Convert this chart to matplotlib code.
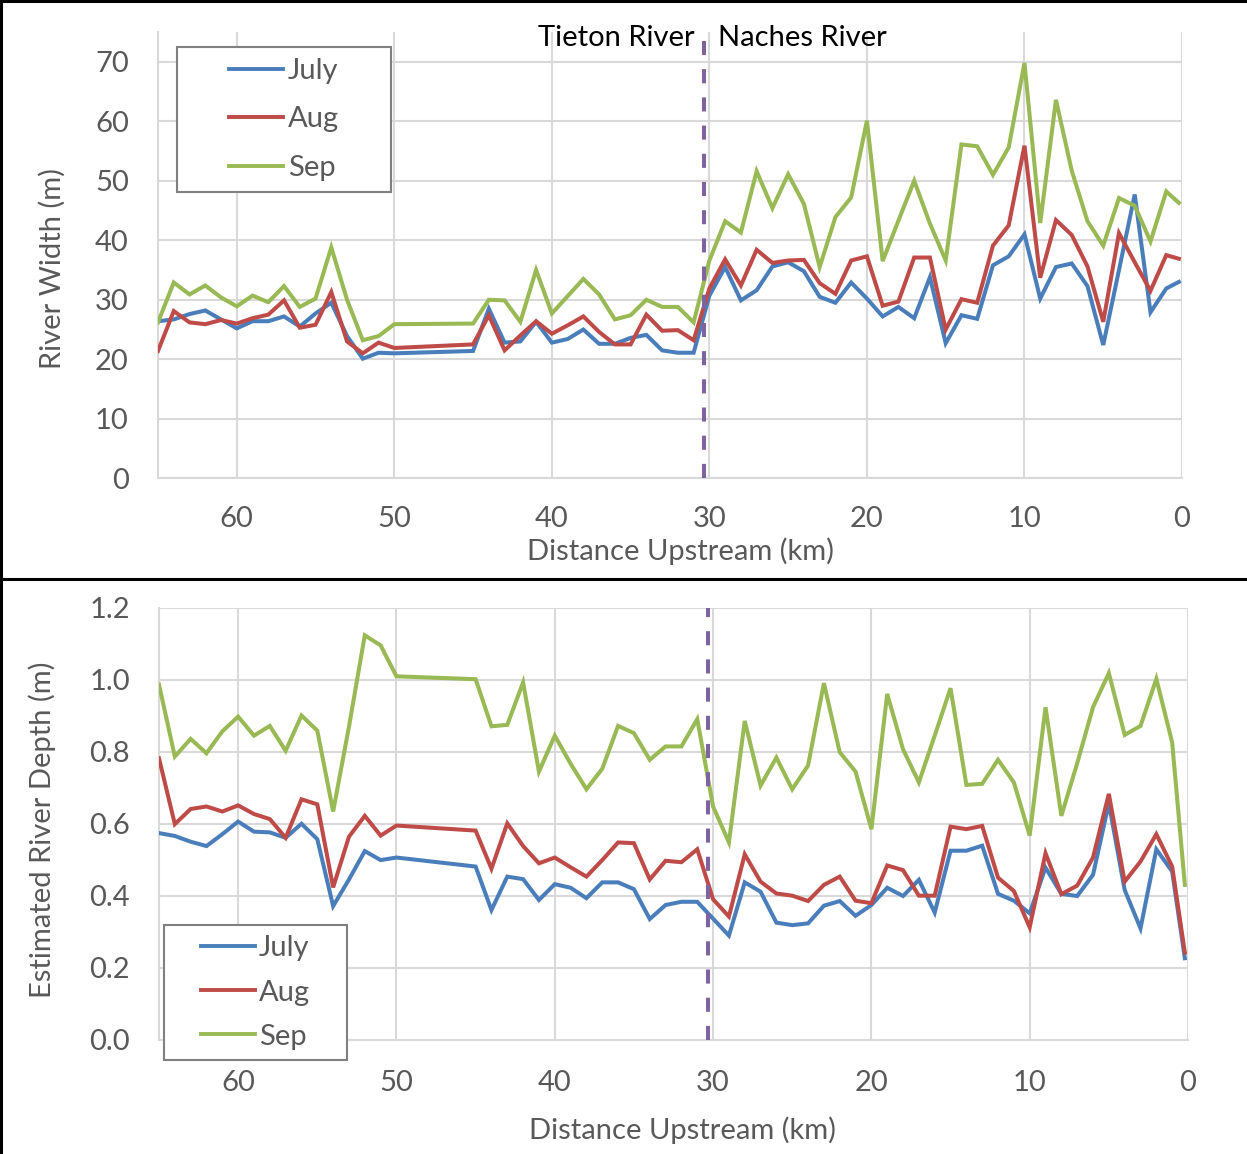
"""River width and estimated depth along the Tieton / Naches reach."""
import numpy as np
import matplotlib
matplotlib.use("Agg")
import matplotlib.pyplot as plt
from matplotlib.lines import Line2D
from matplotlib.patches import Rectangle

# distance upstream (km); no samples between 50 and 45 km
KM = list(range(65, 49, -1)) + list(range(45, 0, -1)) + [0.2]

WIDTH_JULY = [26.4, 26.7, 27.6, 28.2, 26.7, 25.2, 26.4, 26.4, 27.2, 25.5, 27.7, 29.5, 23.9, 20.1, 21.1, 21.0,
              21.4, 28.5, 22.8, 23.0, 26.3, 22.8, 23.4, 25.0, 22.6, 22.6, 23.6, 24.1, 21.5, 21.1, 21.1,
              30.7, 35.5, 29.9, 31.6, 35.6, 36.3, 34.8, 30.5, 29.5, 32.9, 30.2, 27.2, 28.8, 26.9, 33.8,
              22.7, 27.4, 26.8, 35.8, 37.3, 41.0, 30.2, 35.5, 36.1, 32.3, 22.4, 35.0, 47.7, 27.9, 31.9, 33.0]
WIDTH_AUG = [21.4, 28.1, 26.2, 25.9, 26.6, 26.0, 26.9, 27.5, 29.9, 25.3, 25.8, 31.3, 23.0, 21.0, 22.8, 21.9,
             22.5, 27.4, 21.5, 24.0, 26.4, 24.3, 25.7, 27.2, 24.6, 22.5, 22.5, 27.5, 24.8, 24.9, 23.2,
             31.9, 36.8, 32.4, 38.4, 36.2, 36.6, 36.7, 32.8, 31.0, 36.6, 37.3, 29.0, 29.7, 37.1, 37.1,
             25.0, 30.1, 29.5, 39.1, 42.5, 55.9, 33.7, 43.4, 40.9, 35.6, 26.3, 41.2, 36.3, 31.5, 37.5, 36.9]
WIDTH_SEP = [26.2, 32.9, 30.9, 32.4, 30.4, 28.9, 30.7, 29.6, 32.3, 28.8, 30.2, 38.8, 30.0, 23.2, 23.9, 25.9,
             26.0, 30.0, 29.9, 26.3, 35.0, 27.7, 30.6, 33.5, 30.9, 26.7, 27.4, 30.0, 28.8, 28.8, 26.2,
             36.6, 43.2, 41.3, 51.6, 45.4, 51.1, 46.1, 35.5, 43.9, 47.2, 60.1, 36.5, 43.3, 50.0, 42.8,
             36.6, 56.1, 55.8, 51.0, 55.6, 69.8, 42.9, 63.6, 51.7, 43.2, 39.1, 47.1, 45.8, 39.8, 48.2, 46.3]

DEPTH_JULY = [0.574, 0.566, 0.550, 0.538, 0.571, 0.606, 0.578, 0.576, 0.561, 0.600, 0.557, 0.371, 0.445, 0.524, 0.499, 0.506,
              0.481, 0.360, 0.453, 0.446, 0.388, 0.432, 0.422, 0.393, 0.437, 0.437, 0.418, 0.335, 0.374, 0.383, 0.383,
              0.336, 0.289, 0.437, 0.411, 0.325, 0.318, 0.323, 0.372, 0.385, 0.344, 0.374, 0.422, 0.399, 0.444, 0.353,
              0.525, 0.525, 0.539, 0.405, 0.386, 0.351, 0.478, 0.405, 0.399, 0.458, 0.657, 0.416, 0.309, 0.529, 0.467, 0.226]
DEPTH_AUG = [0.782, 0.599, 0.641, 0.648, 0.634, 0.651, 0.627, 0.613, 0.561, 0.668, 0.654, 0.423, 0.564, 0.622, 0.567, 0.595,
             0.581, 0.475, 0.601, 0.538, 0.490, 0.506, 0.479, 0.453, 0.499, 0.548, 0.546, 0.445, 0.497, 0.493, 0.529,
             0.390, 0.342, 0.515, 0.439, 0.406, 0.400, 0.385, 0.430, 0.453, 0.386, 0.379, 0.484, 0.471, 0.400, 0.400,
             0.592, 0.585, 0.594, 0.450, 0.413, 0.312, 0.518, 0.404, 0.428, 0.506, 0.683, 0.439, 0.495, 0.571, 0.481, 0.242]
DEPTH_SEP = [0.987, 0.787, 0.836, 0.796, 0.857, 0.898, 0.845, 0.872, 0.803, 0.901, 0.859, 0.634, 0.870, 1.124, 1.096, 1.010,
             1.002, 0.871, 0.875, 0.993, 0.745, 0.845, 0.767, 0.696, 0.753, 0.872, 0.852, 0.778, 0.815, 0.815, 0.891,
             0.648, 0.548, 0.886, 0.706, 0.784, 0.696, 0.762, 0.991, 0.799, 0.745, 0.585, 0.961, 0.807, 0.715, 0.845,
             0.977, 0.708, 0.711, 0.778, 0.715, 0.567, 0.924, 0.622, 0.768, 0.924, 1.019, 0.847, 0.872, 1.003, 0.826, 0.430]

MONTHS = ["July", "Aug", "Sep"]
CONFLUENCE_KM = 30.35

COLORS = ["#4A7EBB", "#BE4B48", "#98B954"]
GRID = "#D9D9D9"
TXT = "#595959"
FS = 21

plt.rcParams["font.family"] = ["Lato", "DejaVu Sans"]

W, H = 1247, 1154
fig = plt.figure(figsize=(W / 100, H / 100), dpi=100)


def _axes(l, t, r, b):
    return fig.add_axes([l / W, 1 - b / H, (r - l) / W, (b - t) / H])


def _style(ax, ymax, ystep, yfmt, xpad):
    ax.set_xlim(65, 0)
    ax.set_ylim(0, ymax)
    ax.set_xticks(np.arange(0, 61, 10))
    yt = np.arange(0, ymax + 1e-9, ystep)
    ax.set_yticks(yt)
    ax.set_yticklabels([yfmt.format(v) for v in yt])
    ax.grid(True, color=GRID, lw=1.5)
    ax.set_axisbelow(True)
    for s in ("top", "right"):
        ax.spines[s].set_visible(False)
    for s in ("left", "bottom"):
        ax.spines[s].set_color(GRID)
        ax.spines[s].set_linewidth(1.5)
    ax.tick_params(length=0, labelsize=FS, labelcolor=TXT)
    ax.tick_params(axis="y", pad=21)
    ax.tick_params(axis="x", pad=xpad)


def _legend(ax, frame, center, spacing):
    handles = [Line2D([], [], color=c, lw=2.8) for c in COLORS]
    leg = ax.legend(handles, MONTHS, loc="center", bbox_to_anchor=center, frameon=False,
                    fontsize=FS, handlelength=1.85, handletextpad=0.15, labelspacing=spacing,
                    labelcolor=TXT)
    x0, y0, x1, y1 = frame
    ax.add_patch(Rectangle((x0, y0), x1 - x0, y1 - y0, transform=ax.transAxes, fill=True,
                           fc="white", ec="#808080", lw=1.5, clip_on=False, zorder=4))
    leg.set_zorder(5)


def _panel(ax, series, ymax, ystep, yfmt, ylabel, xpad):
    _style(ax, ymax, ystep, yfmt, xpad)
    for vals, c in zip(series, COLORS):
        ax.plot(KM, vals, color=c, lw=2.9, solid_joinstyle="miter", zorder=3)
    ax.axvline(CONFLUENCE_KM, color="#7F63A1", lw=2.9, dashes=(3.5, 3.5), zorder=3)
    ax.set_xlabel("Distance Upstream (km)", fontsize=FS, color=TXT, va="center")
    ax.set_ylabel(ylabel, fontsize=FS, color=TXT, va="center")


# top: river width
ax1 = _axes(158, 32, 1182, 478.3)
_panel(ax1, [WIDTH_JULY, WIDTH_AUG, WIDTH_SEP], 75, 10, "{:.0f}", "River Width (m)", 20)
ax1.xaxis.set_label_coords(0.51, -0.163)
ax1.yaxis.set_label_coords(-0.1035, 0.47)
_legend(ax1, (0.0186, 0.6415, 0.2275, 0.9664), (0.123, 0.804), 0.78)
ax1.text(CONFLUENCE_KM + 0.6, 0.986, "Tieton River", transform=ax1.get_xaxis_transform(),
         ha="right", va="center", fontsize=FS, color="black")
ax1.text(CONFLUENCE_KM - 0.9, 0.986, "Naches River", transform=ax1.get_xaxis_transform(),
         ha="left", va="center", fontsize=FS, color="black")

# bottom: estimated depth
ax2 = _axes(159, 608, 1188, 1039.5)
_panel(ax2, [DEPTH_JULY, DEPTH_AUG, DEPTH_SEP], 1.2, 0.2, "{:.1f}", "Estimated River Depth (m)", 22)
ax2.xaxis.set_label_coords(0.509, -0.2097)
ax2.yaxis.set_label_coords(-0.1137, 0.486)
_legend(ax2, (0.00486, -0.0475, 0.1827, 0.2654), (0.0938, 0.1089), 0.62)

# panel borders
for xs, ys in [((1, 1), (0, H)), ((0, W), (H - 1, H - 1)), ((0, W), (H - 579, H - 579))]:
    fig.add_artist(Line2D(np.array(xs) / W, np.array(ys) / H, color="black", lw=2.2))

fig.savefig("out.png", dpi=100)
